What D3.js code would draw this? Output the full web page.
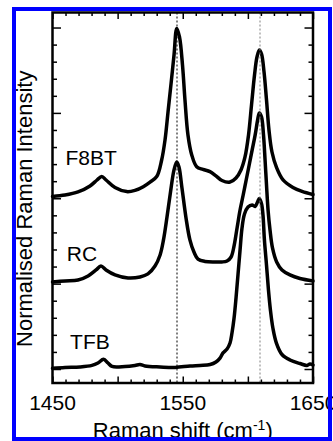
<!DOCTYPE html>
<html>
<head>
<meta charset="utf-8">
<script src="https://cdn.jsdelivr.net/npm/d3@7"></script>
<style>
  body { margin: 0; background: #fff; }
  text { font-family: "Liberation Sans", Arial, sans-serif; fill: #000; }
</style>
</head>
<body>
<div id="chart"></div>
<script>
// spectra: [Raman shift (cm-1), normalised intensity + offset]
const f8bt = [
  [1450, 10.11], [1459.6, 10.19], [1469.6, 10.37], [1478.8, 10.72], [1484.2, 11.07],
  [1487.8, 11.28], [1491.1, 11.07], [1498.0, 10.63], [1507.0, 10.39], [1513.3, 10.46],
  [1519.7, 10.68], [1524.9, 10.95], [1530.0, 11.27], [1533.8, 12.24], [1536.4, 13.42],
  [1538.7, 15.06], [1541.0, 16.70], [1543.3, 18.39], [1545.4, 19.95], [1547.5, 19.45],
  [1549.8, 17.81], [1551.7, 15.76], [1554.0, 13.71], [1556.9, 12.54], [1560.7, 11.85],
  [1565.5, 11.69], [1570.9, 11.56], [1575.5, 11.31], [1580.1, 11.04], [1586.3, 10.95],
  [1590.9, 11.19], [1594.7, 11.66], [1597.8, 12.42], [1600.5, 13.71], [1602.8, 15.47],
  [1605.1, 17.22], [1607.0, 18.28], [1608.8, 18.69], [1610.5, 18.45], [1612.4, 17.40],
  [1614.3, 15.76], [1616.2, 14.00], [1618.5, 12.71], [1622.1, 11.78], [1627.0, 11.07],
  [1634.6, 10.63], [1641.6, 10.40], [1650, 10.22]
];

const rc = [
  [1450, 5.10], [1459.6, 5.16], [1469.6, 5.21], [1477.3, 5.45], [1483.4, 5.80],
  [1487.2, 6.03], [1491.1, 5.80], [1498.0, 5.51], [1508.0, 5.33], [1517.2, 5.39],
  [1523.3, 5.57], [1528.7, 6.03], [1532.6, 6.68], [1535.2, 7.56], [1537.9, 8.90],
  [1540.6, 10.37], [1543.3, 11.66], [1545.4, 12.13], [1547.1, 11.83], [1549.4, 10.60],
  [1552.5, 8.85], [1555.5, 7.56], [1558.6, 6.85], [1561.7, 6.44], [1567.1, 6.30],
  [1574.8, 6.27], [1580.1, 6.27], [1584.0, 6.33], [1587.1, 6.56], [1589.4, 7.21],
  [1591.7, 8.26], [1594.0, 9.31], [1596.4, 10.19], [1598.7, 11.07], [1601.0, 11.95],
  [1603.3, 12.83], [1605.6, 13.71], [1607.5, 14.59], [1608.8, 15.00], [1610.5, 14.76],
  [1612.0, 13.71], [1613.2, 12.24], [1614.3, 10.78], [1615.5, 9.31], [1617.0, 8.14],
  [1618.9, 7.09], [1622.1, 6.27], [1626.2, 5.80], [1632.3, 5.51], [1640.0, 5.30],
  [1650, 5.16]
];

const tfb = [
  [1450, 0.04], [1459.6, 0.09], [1471.1, 0.12], [1480.3, 0.21], [1484.9, 0.35],
  [1489.2, 0.57], [1492.6, 0.35], [1495.7, 0.15], [1505.7, 0.15], [1513.3, 0.21],
  [1517.2, 0.26], [1521.0, 0.18], [1532.6, 0.12], [1544.2, 0.09], [1555.6, 0.18],
  [1563.3, 0.21], [1571.0, 0.26], [1575.5, 0.41], [1578.6, 0.64], [1580.9, 0.94],
  [1584.0, 1.17], [1586.3, 1.52], [1587.8, 2.11], [1589.4, 2.99], [1590.9, 4.16],
  [1592.4, 5.51], [1594.0, 6.97], [1595.5, 8.26], [1597.4, 9.08], [1600.1, 9.49],
  [1603.2, 9.61], [1605.5, 9.52], [1607.4, 9.78], [1608.8, 9.99], [1610.5, 9.67],
  [1611.6, 9.02], [1612.7, 7.56], [1614.3, 6.09], [1615.8, 4.63], [1617.3, 3.46],
  [1619.2, 2.40], [1621.9, 1.52], [1626.2, 0.85], [1632.3, 0.53], [1640.0, 0.32],
  [1645.4, 0.21], [1647.7, 0.29], [1650, 0.23]
];

const seriesNames = ["F8BT", "RC", "TFB"];
const labelShift = [1460, 1461, 1463.5];
const labelLevel = [11.95, 6.34, 1.15];
const markerShifts = [1545.4, 1608.8];
const markerColors = ["#000", "#808080"];
const xTickLabels = [1450, 1550, 1650];

const svgWidth = 333;
const svgHeight = 441;

const svg = d3.select("#chart")
  .append("svg")
  .attr("width", svgWidth)
  .attr("height", svgHeight);

const margin = {top: 12.5, right: 20, bottom: 58, left: 52.5};
const graphWidth = svgWidth - margin.left - margin.right;
const graphHeight = svgHeight - margin.top - margin.bottom;

const graph = svg.append("g")
  .attr("transform", `translate(${margin.left}, ${margin.top})`);

const x = d3.scaleLinear()
  .domain([1450, 1650])
  .range([0, graphWidth]);

const y = d3.scaleLinear()
  .domain([-0.82, 20.88])
  .range([graphHeight, 0]);

// ticks point inward on all four sides
const xMinor = d3.range(1450, 1651, 10).filter(d => d % 50 !== 0);
const xMajor = d3.range(1450, 1651, 50);
const yMinor = d3.range(0, 21).filter(d => d % 5 !== 0);
const yMajor = d3.range(0, 21, 5);

const axisStyle = g => {
  g.select(".domain").remove();
  g.selectAll("line").attr("stroke", "#000").attr("stroke-width", 1.5);
  g.selectAll("text").remove();
};

graph.append("g").attr("transform", `translate(0, ${graphHeight})`)
  .call(d3.axisBottom(x).tickValues(xMinor).tickSizeInner(-3.5).tickSizeOuter(0)).call(axisStyle);
graph.append("g").attr("transform", `translate(0, ${graphHeight})`)
  .call(d3.axisBottom(x).tickValues(xMajor).tickSizeInner(-6.5).tickSizeOuter(0)).call(axisStyle);
graph.append("g")
  .call(d3.axisTop(x).tickValues(xMinor).tickSizeInner(-3.5).tickSizeOuter(0)).call(axisStyle);
graph.append("g")
  .call(d3.axisTop(x).tickValues(xMajor).tickSizeInner(-6.5).tickSizeOuter(0)).call(axisStyle);
graph.append("g")
  .call(d3.axisLeft(y).tickValues(yMinor).tickSizeInner(-4.5).tickSizeOuter(0)).call(axisStyle);
graph.append("g")
  .call(d3.axisLeft(y).tickValues(yMajor).tickSizeInner(-8.5).tickSizeOuter(0)).call(axisStyle);
graph.append("g").attr("transform", `translate(${graphWidth}, 0)`)
  .call(d3.axisRight(y).tickValues(yMinor).tickSizeInner(-4.5).tickSizeOuter(0)).call(axisStyle);
graph.append("g").attr("transform", `translate(${graphWidth}, 0)`)
  .call(d3.axisRight(y).tickValues(yMajor).tickSizeInner(-8.5).tickSizeOuter(0)).call(axisStyle);

// tick labels on the bottom only
graph.selectAll(".xlabel")
  .data(xTickLabels)
  .enter()
  .append("text")
  .attr("class", "xlabel")
  .attr("x", d => x(d))
  .attr("y", graphHeight + 27)
  .attr("text-anchor", "middle")
  .style("font-size", "21px")
  .text(d => d);

// spectra
const line = d3.line()
  .x(d => x(d[0]))
  .y(d => y(d[1]))
  .curve(d3.curveCatmullRom.alpha(0.5));

graph.selectAll(".spectrum")
  .data([f8bt, rc, tfb])
  .enter()
  .append("path")
  .attr("class", "spectrum")
  .attr("d", line)
  .attr("fill", "none")
  .attr("stroke", "#000")
  .attr("stroke-width", 3.5)
  .attr("stroke-linejoin", "round")
  .attr("stroke-linecap", "round");

// dotted guide lines at the two main bands
graph.selectAll(".marker")
  .data(markerShifts)
  .enter()
  .append("line")
  .attr("class", "marker")
  .attr("x1", d => Math.round(x(d)) + 0.5)
  .attr("x2", d => Math.round(x(d)) + 0.5)
  .attr("y1", 0)
  .attr("y2", graphHeight)
  .attr("stroke", (d, i) => markerColors[i])
  .attr("stroke-width", 1)
  .attr("stroke-dasharray", "2,2");

graph.selectAll(".name")
  .data(seriesNames)
  .enter()
  .append("text")
  .attr("class", "name")
  .attr("x", (d, i) => x(labelShift[i]))
  .attr("y", (d, i) => y(labelLevel[i]))
  .style("font-size", "21px")
  .text(d => d);

// frame
graph.append("rect")
  .attr("width", graphWidth)
  .attr("height", graphHeight)
  .attr("fill", "none")
  .attr("stroke", "#000")
  .attr("stroke-width", 2.5);

// axis titles
const xTitle = svg.append("text")
  .attr("x", margin.left + x(1550))
  .attr("y", 438)
  .attr("text-anchor", "middle")
  .style("font-size", "22px");
xTitle.append("tspan").text("Raman shift (cm");
xTitle.append("tspan").attr("dy", -8).style("font-size", "14px").text("-1");
xTitle.append("tspan").attr("dy", 8).text(")");

svg.append("text")
  .attr("transform", `translate(32, ${margin.top + graphHeight / 2 + 11}) rotate(-90)`)
  .attr("text-anchor", "middle")
  .style("font-size", "22px")
  .text("Normalised Raman Intensity");

// blue border of the figure panel
svg.append("rect")
  .attr("x", 14)
  .attr("y", 9)
  .attr("width", 316)
  .attr("height", 430)
  .attr("fill", "none")
  .attr("stroke", "#0000ff")
  .attr("stroke-width", 4);
</script>
</body>
</html>
